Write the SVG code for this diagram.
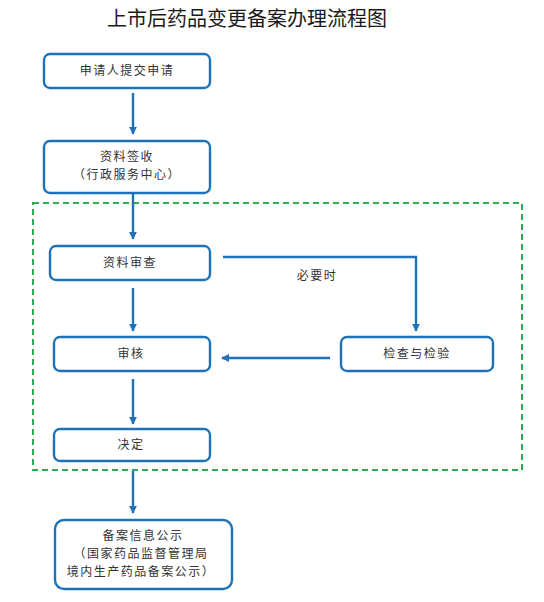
<svg xmlns="http://www.w3.org/2000/svg" width="544" height="602" viewBox="0 0 544 602">
<style>
.bg{fill:#ffffff}
.box{fill:#ffffff;stroke:#1f72b8;stroke-width:2.4}
.t{font-family:"Noto Sans CJK SC","Noto Sans",sans-serif;font-size:12px;fill:#333333;text-anchor:middle;letter-spacing:1.5px}
.title{font-family:"Noto Sans CJK SC","Noto Sans",sans-serif;font-size:20px;fill:#1a1a1a;text-anchor:middle}
.ln{fill:none;stroke:#1f72b8;stroke-width:2.4}
.grp{fill:none;stroke:#2eac4f;stroke-width:2;stroke-dasharray:6,4}
</style>
<defs>
<marker id="ah" viewBox="0 0 10 10" refX="9" refY="5" markerWidth="3.4" markerHeight="3.4" orient="auto" markerUnits="strokeWidth">
<path d="M0,0 L10,5 L0,10 z" fill="#1f72b8"/>
</marker>
</defs>
<rect class="bg" x="0" y="0" width="544" height="602"/>
<text class="title" x="247" y="26">上市后药品变更备案办理流程图</text>
<rect id="stage" class="grp" x="33" y="203" width="489" height="267"/>
<g id="connectors">
<line class="ln" x1="133" y1="93" x2="133" y2="134" marker-end="url(#ah)"/>
<line class="ln" x1="133" y1="194" x2="133" y2="239" marker-end="url(#ah)"/>
<line class="ln" x1="133" y1="288" x2="133" y2="331" marker-end="url(#ah)"/>
<polyline class="ln" points="223,257 416,257 416,331" marker-end="url(#ah)"/>
<line class="ln" x1="330" y1="358" x2="222" y2="358" marker-end="url(#ah)"/>
<line class="ln" x1="133" y1="379" x2="133" y2="424" marker-end="url(#ah)"/>
<line class="ln" x1="133" y1="471" x2="133" y2="513" marker-end="url(#ah)"/>
<text class="t" x="317" y="280">必要时</text>
</g>
<g id="n1">
<rect class="box" x="44" y="54" width="166" height="34" rx="6"/>
<text class="t" x="127" y="75">申请人提交申请</text>
</g>
<g id="n2">
<rect class="box" x="44" y="141" width="166" height="52" rx="6"/>
<text class="t" x="127" y="161">资料签收</text>
<text class="t" x="127" y="179">（行政服务中心）</text>
</g>
<g id="n3">
<rect class="box" x="50" y="246" width="160" height="34" rx="6"/>
<text class="t" x="130" y="267">资料审查</text>
</g>
<g id="n4">
<rect class="box" x="54" y="337" width="156" height="34" rx="6"/>
<text class="t" x="131" y="358">审核</text>
</g>
<g id="n5">
<rect class="box" x="341" y="337" width="152" height="34" rx="6"/>
<text class="t" x="417" y="358">检查与检验</text>
</g>
<g id="n6">
<rect class="box" x="54" y="429" width="156" height="32" rx="6"/>
<text class="t" x="131" y="449">决定</text>
</g>
<g id="n7">
<rect class="box" x="55" y="520" width="177" height="69" rx="9"/>
<text class="t" x="143" y="540">备案信息公示</text>
<text class="t" x="141" y="558">（国家药品监督管理局</text>
<text class="t" x="141" y="576">境内生产药品备案公示）</text>
</g>
</svg>
